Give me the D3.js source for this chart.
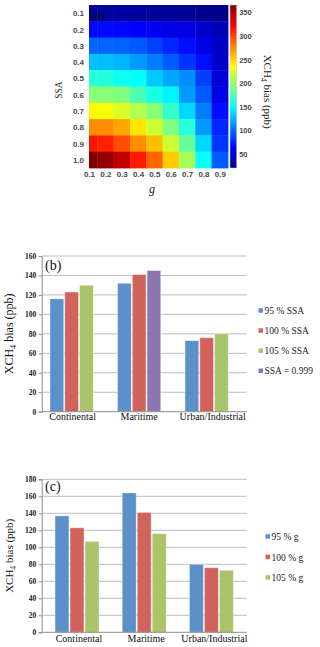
<!DOCTYPE html>
<html><head><meta charset="utf-8">
<script src="https://cdn.jsdelivr.net/npm/d3@7"></script>
<style>body{margin:0;background:#fff}svg{display:block}</style>
</head><body>
<script>
// ---------- DATA ----------
const gValues = [0.1,0.2,0.3,0.4,0.5,0.6,0.7,0.8,0.9];
const ssaValues = [0.1,0.2,0.3,0.4,0.5,0.6,0.7,0.8,0.9,1.0];
// XCH4 bias (ppb): rows = SSA, columns = g
const biasGrid = [
  [32, 32, 31, 30, 29, 28, 27, 25, 23],
  [66, 66, 65, 63, 59, 55, 53, 46, 39],
  [98, 98, 97, 93, 85, 76, 68, 55, 45],
  [128,128,124,115,106, 94, 81, 68, 46],
  [163,162,154,150,132,120,112, 85, 50],
  [197,196,194,175,158,146,115, 93, 54],
  [238,234,223,210,197,167,137,106, 68],
  [276,275,266,245,219,193,163,115, 76],
  [316,312,297,275,258,219,184,137, 81],
  [366,360,344,314,288,254,206,152, 94]
];
const colorMin = 20, colorMax = 366;
const colorbarTicks = [50,100,150,200,250,300,350];

const aerosolTypes = ["Continental","Maritime","Urban/Industrial"];
const ssaSeriesNames = ["95 % SSA","100 % SSA","105 % SSA","SSA = 0.999"];
const ssa95  = [116,132,73];
const ssa100 = [123,141,76];
const ssa105 = [130,null,80];
const ssa0999 = [null,145,null];
const ssaSlots = [0,1,2,2];
const yTicksB = [0,20,40,60,80,100,120,140,160];

const gSeriesNames = ["95 % g","100 % g","105 % g"];
const g95  = [137,164,80];
const g100 = [123,141,76];
const g105 = [107,116,73];
const yTicksC = [0,20,40,60,80,100,120,140,160,180];

const seriesColors = ["#5b90c9","#d1635d","#a9c46a","#8f76b1"];

// ---------- SETUP ----------
const svg = d3.select("body").append("svg").attr("width",320).attr("height",647);
svg.append("rect").attr("width",320).attr("height",647).attr("fill","#fff");

const jetStops = [0,0.125,0.375,0.625,0.875,1];
const jetColors = ["#000080","#0000ff","#00ffff","#ffff00","#ff0000","#800000"];
const jet = d3.scaleLinear()
  .domain(jetStops.map(t => colorMin + t*(colorMax-colorMin)))
  .range(jetColors).clamp(true);

// ---------- PANEL (a) heatmap ----------
const hx = d3.scaleLinear().domain([0.1,0.95]).range([89,228]).clamp(true);
const hy = d3.scaleLinear().domain([0.05,1.05]).range([5,168]);
const cells = [];
ssaValues.forEach((s,i)=>gValues.forEach((g,j)=>cells.push({s,g,v:biasGrid[i][j]})));
const ha = svg.append("g");
ha.selectAll("rect.cell").data(cells).join("rect")
  .attr("x", d=>hx(d.g-0.05))
  .attr("width", d=>hx(d.g+0.05)-hx(d.g-0.05)+0.4)
  .attr("y", d=>hy(d.s-0.05))
  .attr("height", d=>hy(d.s+0.05)-hy(d.s-0.05)+0.4)
  .attr("fill", d=>jet(d.v));

const hxAxis = ha.append("g").attr("transform","translate(0,168)")
  .call(d3.axisBottom(hx).tickValues(gValues).tickFormat(d3.format(".1f")).tickSize(0).tickPadding(3));
const hyAxis = ha.append("g").attr("transform","translate(89,0)")
  .call(d3.axisLeft(hy).tickValues(ssaValues).tickFormat(d3.format(".1f")).tickSize(0).tickPadding(5));
[hxAxis,hyAxis].forEach(a=>{
  a.select(".domain").remove();
  a.selectAll("text").attr("font-family","Liberation Sans, Arial, sans-serif")
    .attr("font-weight","bold").attr("font-size",8).attr("fill","#4a4a4a");
});

// colorbar
const cy = d3.scaleLinear().domain([colorMin,colorMax]).range([168,5]);
const grad = svg.append("defs").append("linearGradient").attr("id","jetgrad")
  .attr("x1",0).attr("y1",1).attr("x2",0).attr("y2",0);
grad.selectAll("stop").data(jetStops).join("stop")
  .attr("offset",d=>d).attr("stop-color",(d,i)=>jetColors[i]);
svg.append("rect").attr("x",230).attr("y",cy(colorMax)).attr("width",6.7)
  .attr("height",cy(colorMin)-cy(colorMax)).attr("fill","url(#jetgrad)")
  .attr("stroke","#c8c8c8").attr("stroke-width",0.5);
const cAxis = svg.append("g").attr("transform","translate(236.7,0)")
  .call(d3.axisRight(cy).tickValues(colorbarTicks).tickSize(0).tickPadding(2.5));
cAxis.select(".domain").remove();
cAxis.selectAll("text").attr("font-family","Liberation Sans, Arial, sans-serif")
  .attr("font-weight","bold").attr("font-size",7.5).attr("fill","#4a4a4a");

function xchLabel(sel, size){
  sel.append("tspan").text("XCH");
  sel.append("tspan").text("4").attr("font-size",size*0.7).attr("dy",size*0.25);
  sel.append("tspan").text(" bias (ppb)").attr("dy",-size*0.25);
}
const cbl = svg.append("text").attr("transform","translate(263.5,91.7) rotate(90)")
  .attr("text-anchor","middle").attr("font-family","Liberation Serif, Times New Roman, serif")
  .attr("font-size",11).attr("fill","#222");
xchLabel(cbl,11);

svg.append("text").attr("transform","translate(61.5,90) rotate(-90)")
  .attr("text-anchor","middle").attr("font-family","Liberation Serif, serif")
  .attr("font-size",9.5).attr("fill","#222").text("SSA");
svg.append("text").attr("x",152).attr("y",193).attr("text-anchor","middle")
  .attr("font-family","Liberation Serif, serif").attr("font-style","italic")
  .attr("font-size",12).attr("fill","#222").text("g");
svg.append("text").attr("x",90).attr("y",18.5).attr("font-family","Liberation Serif, serif")
  .attr("font-size",14).attr("fill","#111").text("(a)");

// ---------- BAR PANELS ----------
function barPanel(opt){
  const g = svg.append("g");
  const y = d3.scaleLinear().domain([0, d3.max(opt.ticks)]).range([opt.y0, opt.y1]);
  const x0 = d3.scaleBand().domain(aerosolTypes).range([41.7, opt.xEnd])
    .paddingInner(opt.pIn).paddingOuter(opt.pOut);
  const x1 = d3.scaleBand().domain([0,1,2]).range([0,x0.bandwidth()]).paddingInner(0.07);
  // gridlines
  g.selectAll("line.grid").data(opt.ticks.filter(t=>t>0)).join("line")
    .attr("x1",41.7).attr("x2",opt.gridEnd).attr("y1",d=>y(d)).attr("y2",d=>y(d))
    .attr("stroke","#bdbdbd").attr("stroke-width",1);
  // bars
  const bars = [];
  opt.series.forEach((vals,si)=>vals.forEach((v,ci)=>{
    if(v!=null) bars.push({cat:aerosolTypes[ci], slot:opt.slots[si], v, si});
  }));
  g.selectAll("rect.bar").data(bars).join("rect")
    .attr("x",d=>x0(d.cat)+x1(d.slot)).attr("width",x1.bandwidth())
    .attr("y",d=>y(d.v)).attr("height",d=>y(0)-y(d.v))
    .attr("fill",d=>seriesColors[d.si])
    .attr("stroke","#ffffff").attr("stroke-opacity",0.5).attr("stroke-width",0.8);
  // x axis line
  g.append("line").attr("x1",41.7).attr("x2",opt.gridEnd).attr("y1",y(0)).attr("y2",y(0))
    .attr("stroke","#8c8c8c");
  // y axis
  const ya = g.append("g").attr("transform","translate(41.7,0)")
    .call(d3.axisLeft(y).tickValues(opt.ticks).tickSize(3).tickPadding(2.5));
  ya.select(".domain").attr("stroke","#8c8c8c");
  ya.selectAll(".tick line").attr("stroke","#8c8c8c");
  ya.selectAll("text").attr("font-family","Liberation Serif, serif").attr("font-weight","bold")
    .attr("font-size",7.5).attr("fill","#222");
  // x labels
  const xa = g.append("g").attr("transform",`translate(0,${y(0)})`)
    .call(d3.axisBottom(x0).tickSize(0).tickPadding(opt.labPad));
  xa.select(".domain").remove();
  xa.selectAll("text").attr("font-family","Liberation Serif, serif").attr("font-size",10)
    .attr("fill","#111").attr("dx",(d,i)=>opt.labShift[i]);
  // panel label
  g.append("text").attr("x",opt.tagX).attr("y",opt.tagY).attr("font-family","Liberation Serif, serif")
    .attr("font-size",14).attr("fill","#111").text(opt.tag);
  // y title
  const yt = g.append("text")
    .attr("transform",`translate(13,${(opt.y0+opt.y1)/2}) rotate(-90)`)
    .attr("text-anchor","middle").attr("font-family","Liberation Serif, serif")
    .attr("font-size",opt.titleSize).attr("fill","#111");
  xchLabel(yt,opt.titleSize);
  // legend
  const lg = g.append("g");
  opt.names.forEach((n,i)=>{
    const ly = opt.legY + i*opt.legStep;
    lg.append("rect").attr("x",opt.legX).attr("y",ly-2.5).attr("width",4.5).attr("height",4.5)
      .attr("fill",seriesColors[i]);
    lg.append("text").attr("x",opt.legX+6).attr("y",ly+3.3)
      .attr("font-family","Liberation Serif, serif").attr("font-size",9.5).attr("fill","#222").text(n);
  });
}

barPanel({
  ticks:yTicksB, y0:411.7, y1:256, xEnd:236.6, gridEnd:246.7, pIn:0.359, pOut:0.123,
  series:[ssa95,ssa100,ssa105,ssa0999], slots:ssaSlots, names:ssaSeriesNames,
  labPad:1.5, labShift:[1,0,6], tag:"(b)", tagX:45, tagY:269.5, titleSize:12,
  legX:258.5, legY:310.7, legStep:20.1
});
barPanel({
  ticks:yTicksC, y0:632.3, y1:479.3, xEnd:246.7, gridEnd:246.7, pIn:0.345, pOut:0.198,
  series:[g95,g100,g105], slots:[0,1,2], names:gSeriesNames,
  labPad:2.6, labShift:[2,2,3], tag:"(c)", tagX:45, tagY:491, titleSize:11,
  legX:265.5, legY:536.7, legStep:20.5
});
</script>
</body></html>
